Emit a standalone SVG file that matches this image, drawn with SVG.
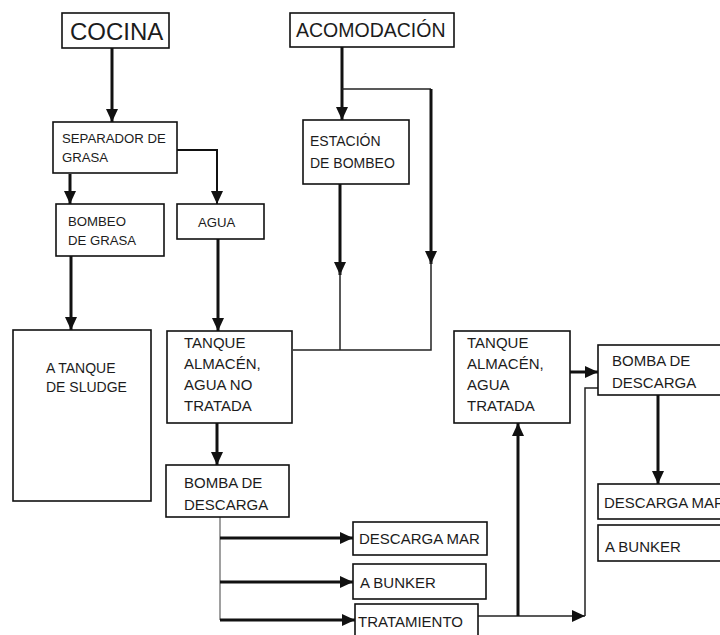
<svg xmlns="http://www.w3.org/2000/svg" width="720" height="635" viewBox="0 0 720 635">
  <style>
    .box { fill: #ffffff; stroke: #111111; stroke-width: 1.6; }
    text { font-family: "Liberation Sans", Arial, sans-serif; fill: #1c1c1c; }
    .t13 { font-size: 13.2px; }
    .t14 { font-size: 14px; }
    .t15 { font-size: 15px; }
    .big { font-size: 24px; }
    .mid { font-size: 19.5px; }
    .thick { fill: none; stroke: #111111; stroke-width: 3; }
    .med { fill: none; stroke: #111111; stroke-width: 2; }
    .thin { fill: none; stroke: #222222; stroke-width: 1.5; }
    .grey { fill: none; stroke: #808080; stroke-width: 1.5; }
  </style>
  <defs>
    <marker id="arrow" markerUnits="userSpaceOnUse" markerWidth="14" markerHeight="14" viewBox="0 0 14 14" refX="13" refY="7" orient="auto">
      <path d="M0,1 L13,7 L0,13 Z" fill="#111111"/>
    </marker>
  </defs>

  <rect width="720" height="635" fill="#ffffff"/>

  <!-- connectors -->
  <g id="connectors">
    <line class="thick" x1="112" y1="48" x2="112" y2="122" marker-end="url(#arrow)"/>
    <line class="thick" x1="70" y1="174" x2="70" y2="204" marker-end="url(#arrow)"/>
    <polyline class="med" points="177,150 217,150 217,204" marker-end="url(#arrow)"/>
    <line class="thick" x1="218" y1="239" x2="218" y2="331" marker-end="url(#arrow)"/>
    <line class="thick" x1="71" y1="256" x2="71" y2="330" marker-end="url(#arrow)"/>

    <line class="thick" x1="342" y1="47" x2="342" y2="120" marker-end="url(#arrow)"/>
    <line class="thin" x1="342" y1="89" x2="431" y2="89"/>
    <line class="thick" x1="431" y1="89" x2="431" y2="264" marker-end="url(#arrow)"/>
    <line class="thick" x1="340" y1="184" x2="340" y2="275" marker-end="url(#arrow)"/>
    <polyline class="thin" points="340,272 340,350"/>
    <polyline class="thin" points="431,262 431,350 293,350"/>

    <line class="thick" x1="217" y1="423" x2="217" y2="465" marker-end="url(#arrow)"/>
    <line class="grey" x1="220" y1="517" x2="220" y2="620"/>
    <line class="thick" x1="220" y1="538" x2="353" y2="538" marker-end="url(#arrow)"/>
    <line class="thick" x1="220" y1="582" x2="353" y2="582" marker-end="url(#arrow)"/>
    <line class="thick" x1="220" y1="620" x2="355" y2="620" marker-end="url(#arrow)"/>

    <line class="thin" x1="478" y1="616" x2="585" y2="616" marker-end="url(#arrow)"/>
    <line class="thick" x1="518" y1="616" x2="518" y2="423" marker-end="url(#arrow)"/>
    <polyline class="thin" points="585,616 585,388 598,388"/>
    <line class="thick" x1="570" y1="372" x2="598" y2="372" marker-end="url(#arrow)"/>
    <line class="thick" x1="658" y1="395" x2="658" y2="484" marker-end="url(#arrow)"/>
  </g>

  <!-- nodes -->
  <g id="cocina">
    <rect class="box" x="62" y="13" width="107" height="35"/>
    <text class="big" x="70" y="40">COCINA</text>
  </g>
  <g id="acomodacion">
    <rect class="box" x="290" y="13" width="164" height="34"/>
    <text class="mid" x="296" y="37">ACOMODACIÓN</text>
  </g>
  <g id="separador">
    <rect class="box" x="53" y="122" width="124" height="51"/>
    <text class="t13" x="62" y="143">SEPARADOR DE</text>
    <text class="t13" x="62" y="162">GRASA</text>
  </g>
  <g id="bombeo-grasa">
    <rect class="box" x="56" y="204" width="108" height="52"/>
    <text class="t13" x="68" y="226">BOMBEO</text>
    <text class="t13" x="68" y="245">DE GRASA</text>
  </g>
  <g id="agua">
    <rect class="box" x="177" y="204" width="87" height="35"/>
    <text class="t13" x="198" y="227">AGUA</text>
  </g>
  <g id="estacion">
    <rect class="box" x="303" y="120" width="106" height="64"/>
    <text class="t14" x="310" y="146">ESTACIÓN</text>
    <text class="t14" x="310" y="168">DE BOMBEO</text>
  </g>
  <g id="sludge">
    <rect class="box" x="13" y="330" width="138" height="171"/>
    <text class="t14" x="46" y="373">A TANQUE</text>
    <text class="t14" x="46" y="392">DE SLUDGE</text>
  </g>
  <g id="tanque-no-tratada">
    <rect class="box" x="167" y="331" width="125" height="92"/>
    <text class="t15" x="184" y="348">TANQUE</text>
    <text class="t15" x="184" y="369">ALMACÉN,</text>
    <text class="t15" x="184" y="390">AGUA NO</text>
    <text class="t15" x="184" y="411">TRATADA</text>
  </g>
  <g id="bomba-descarga-1">
    <rect class="box" x="166" y="465" width="123" height="52"/>
    <text class="t15" x="184" y="488">BOMBA DE</text>
    <text class="t15" x="184" y="510">DESCARGA</text>
  </g>
  <g id="descarga-mar-1">
    <rect class="box" x="353" y="522" width="134" height="33"/>
    <text class="t15" x="359" y="544">DESCARGA MAR</text>
  </g>
  <g id="bunker-1">
    <rect class="box" x="353" y="564" width="133" height="35"/>
    <text class="t15" x="360" y="588">A BUNKER</text>
  </g>
  <g id="tratamiento">
    <rect class="box" x="355" y="604" width="123" height="40"/>
    <text class="t15" x="358" y="627">TRATAMIENTO</text>
  </g>
  <g id="tanque-tratada">
    <rect class="box" x="454" y="331" width="116" height="92"/>
    <text class="t15" x="467" y="348">TANQUE</text>
    <text class="t15" x="467" y="369">ALMACÉN,</text>
    <text class="t15" x="467" y="390">AGUA</text>
    <text class="t15" x="467" y="411">TRATADA</text>
  </g>
  <g id="bomba-descarga-2">
    <rect class="box" x="598" y="345" width="126" height="50"/>
    <text class="t15" x="612" y="366">BOMBA DE</text>
    <text class="t15" x="612" y="388">DESCARGA</text>
  </g>
  <g id="descarga-mar-2">
    <rect class="box" x="598" y="484" width="126" height="35"/>
    <text class="t15" x="604" y="508">DESCARGA MAR</text>
  </g>
  <g id="bunker-2">
    <rect class="box" x="598" y="525" width="126" height="36"/>
    <text class="t15" x="605" y="552">A BUNKER</text>
  </g>
</svg>
